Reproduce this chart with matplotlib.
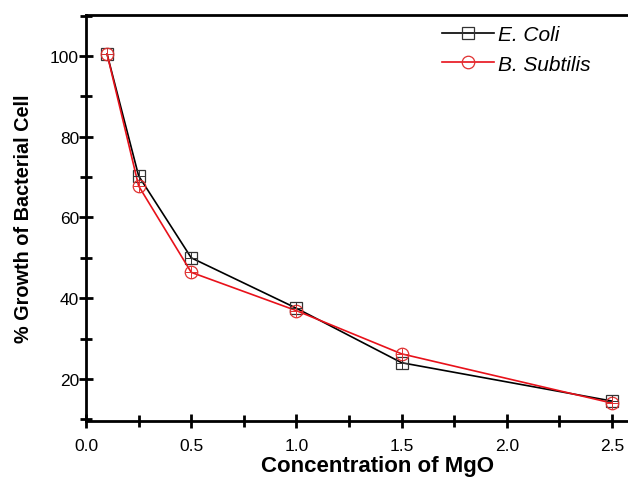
import matplotlib.pyplot as plt
from matplotlib.ticker import MultipleLocator

plt.rcParams['font.family'] = ['Liberation Sans', 'DejaVu Sans']

conc = [0.1, 0.25, 0.5, 1.0, 1.5, 2.5]
ecoli = [100.5, 70.3, 50.0, 37.5, 24.0, 14.5]
bsub = [100.5, 67.8, 46.4, 36.9, 26.2, 14.0]

fig = plt.figure(figsize=(6.28, 4.81), dpi=100)
ax = fig.add_axes([0.137, 0.123, 0.863, 0.844])

ax.plot(conc, ecoli, color='black', lw=1.2, marker='s', ms=8.5,
        mfc='none', mec='#333333', mew=0.9, label='E. Coli')
ax.plot(conc, bsub, color='#e8111a', lw=1.2, marker='o', ms=9,
        mfc='none', mec='#e03030', mew=0.9, label='B. Subtilis')
# crosshairs inside the symbols
ax.plot(conc, ecoli, ls='none', marker='+', ms=8.5, mec='#333333', mew=0.7)
ax.plot(conc, bsub, ls='none', marker='+', ms=9, mec='#e03030', mew=0.7)

ax.set_xlim(0, 2.576)
ax.set_ylim(9.6, 110.2)
ax.xaxis.set_major_locator(MultipleLocator(0.5))
ax.xaxis.set_minor_locator(MultipleLocator(0.25))
ax.yaxis.set_minor_locator(MultipleLocator(10))
ax.set_yticks([20, 40, 60, 80, 100])

for s in ['left', 'bottom', 'top']:
    ax.spines[s].set_linewidth(2)
ax.spines['right'].set_visible(False)
ax.tick_params(which='both', direction='inout', width=2, labelsize=12.5,
               top=False, right=False)
ax.tick_params(which='major', length=10)
ax.tick_params(which='minor', length=8)
ax.tick_params(axis='y', pad=0)
ax.tick_params(axis='x', pad=7)

ax.set_xlabel('Concentration of MgO', fontsize=16, fontweight='bold', labelpad=4)
ax.xaxis.set_label_coords(0.537, -0.085)
ax.set_ylabel('% Growth of Bacterial Cell', fontsize=14.3, fontweight='bold', labelpad=12)

leg = ax.legend(loc='upper right', frameon=False, fontsize=15, handlelength=2.5,
                handletextpad=0.2, labelspacing=0.5, borderaxespad=0.1,
                bbox_to_anchor=(0.95, 1.0))
for t in leg.get_texts():
    t.set_fontstyle('italic')

fig.savefig('out.png', dpi=100)
